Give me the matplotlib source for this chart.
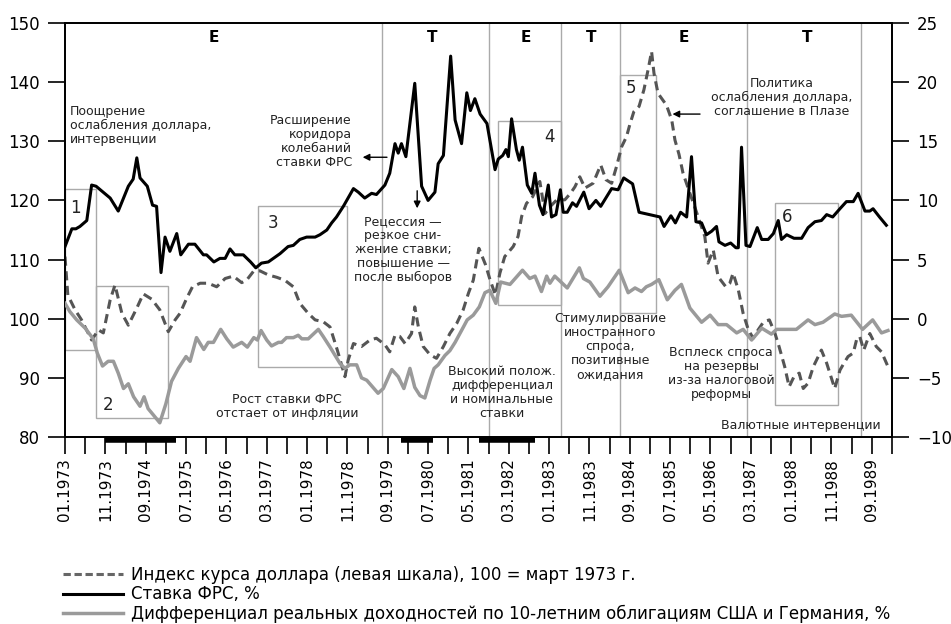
import matplotlib
matplotlib.use("Agg")
import matplotlib.pyplot as plt
import matplotlib.transforms as mtransforms
from matplotlib.lines import Line2D
from matplotlib.patches import Rectangle

plt.rcParams['font.family'] = ['DejaVu Sans']

# month index: 0 = 01.1973
usd_m = [0, 0.7, 2.5, 4.1, 6.6, 8.3, 9.5, 11.2, 12.4, 14.1,
         15.7, 17.8, 19.4, 21.5, 23.5, 25.6, 27.3, 28.5, 30.2, 31.6,
         33.5, 35.5, 37.6, 39.7, 41.7, 43.8, 45, 46.7, 48.3, 50.4,
         52.5, 54.5, 56.6, 58.2, 60.3, 62, 64, 65.7, 67.5, 69.4,
         70.2, 71.5, 73.5, 75.6, 77.2, 79.3, 80.5, 81.8, 83, 84.3,
         85.9, 86.7, 87.6, 88.8, 90.5, 92.1, 93.8, 95.4, 97.1, 98.7,
         100, 101.2, 102.6, 104.2, 105.4, 106.7, 107.8, 109, 111.1, 112.3,
         113.2, 114.4, 115.9, 117.7, 119, 120.2, 121.9, 123.9, 125.3, 126.4,
         127.6, 128.9, 130.9, 132.8, 134.1, 135.5, 136.7, 138, 139.2, 140,
         141, 142.3, 143.5, 144.6, 145.4, 146, 147, 149.1, 150.4, 151.2,
         152.2, 153.2, 154.9, 156.1, 157.2, 158.6, 159.4, 160.7, 161.9, 163.8,
         164.8, 165.6, 166.9, 168.1, 169.4, 170.6, 171.8, 173.2, 174.6, 176,
         177, 178.4, 179.5, 180.7, 182, 183, 184.2, 185.5, 187.5, 188.8,
         189.6, 190.8, 192.1, 193.1, 194.1, 195.4, 196.2, 197, 198, 199.5,
         201.1, 202.4, 204]
usd_v = [110.5, 104.0, 101.5, 99.8, 96.4, 98.1, 97.6, 103.2, 105.7, 100.9,
         98.9, 101.8, 104.2, 103.3, 101.5, 97.8, 99.8, 100.9, 103.5, 105.4,
         106.0, 106.0, 105.4, 106.8, 107.2, 106.1, 106.5, 108.0, 108.1, 107.4,
         107.0, 106.5, 105.4, 102.6, 100.9, 99.8, 99.5, 98.6, 94.7, 90.2,
         93.0, 95.8, 95.3, 96.4, 96.7, 95.6, 94.4, 97.2, 97.0, 95.8,
         97.5, 102.0, 98.6, 95.3, 93.9, 93.3, 95.3, 97.5, 99.2, 101.5,
         104.3, 106.5, 111.9, 109.2, 106.5, 104.0, 107.7, 110.5, 112.2, 113.9,
         117.3, 119.5, 120.6, 123.2, 117.8, 118.9, 120.1, 120.1, 121.2, 122.3,
         124.0, 122.1, 122.9, 126.0, 123.5, 122.9, 125.7, 129.1, 130.8, 132.8,
         135.0, 135.9, 138.7, 142.3, 145.2, 141.5, 138.1, 136.1, 133.6, 130.2,
         127.8, 124.6, 121.2, 118.9, 116.7, 113.9, 109.4, 111.6, 107.1, 105.4,
         106.0, 107.7, 104.9, 100.9, 98.1, 96.7, 98.1, 99.5, 99.8, 97.5,
         95.3, 91.9, 88.5, 90.2, 90.8, 88.2, 89.1, 91.9, 94.7, 92.5,
         90.8, 88.2, 91.3, 92.5, 93.6, 94.2, 96.4, 97.0, 94.7, 97.5,
         95.3, 94.4, 91.9]

fed_m = [0, 1.7, 2.7, 3.7, 5.4, 6.6, 7.7, 11.2, 13.2, 15.7,
         16.9, 17.8, 18.6, 20.4, 21.7, 22.7, 23.8, 24.8, 26, 27.7,
         28.7, 30.6, 32.2, 34.3, 35.1, 36.9, 38.4, 39.7, 40.9, 42.1,
         44.2, 46, 47.3, 48.7, 50.4, 53.3, 55.3, 56.6, 58.2, 59.9,
         62, 63.2, 64.9, 66.1, 67.3, 69, 71.5, 72.7, 74.3, 76,
         77.2, 79.3, 80.5, 81.8, 82.6, 83.4, 84.5, 86.7, 88.4, 90,
         91.7, 92.5, 93.8, 95.6, 96.7, 98.3, 99.6, 100.5, 101.6, 102.9,
         104.6, 106.6, 107.4, 108.5, 109.3, 109.9, 110.7, 111.9, 112.6, 113.4,
         114.6, 115.7, 116.5, 117.6, 118.5, 119.8, 120.6, 121.7, 122.8, 123.5,
         124.5, 125.8, 126.8, 128.6, 129.9, 131.6, 132.8, 135.5, 137.1, 138.5,
         140.7, 142.3, 147.5, 148.5, 150.2, 151.3, 152.6, 154.1, 155.3, 156.4,
         157.8, 159, 160.3, 161.5, 162.1, 163.6, 165, 166.3, 166.9, 167.7,
         168.8, 169.8, 171.6, 172.7, 174.3, 175.6, 176.8, 177.6, 178.9, 180.7,
         182.6, 184.2, 185.9, 187.5, 188.8, 190.3, 192.1, 193.7, 195.4, 196.6,
         198.3, 199.5, 200.3, 201.9, 203.6]
fed_v = [6.1, 7.6, 7.6, 7.8, 8.3, 11.3, 11.2, 10.2, 9.1, 11.2,
         11.8, 13.6, 11.9, 11.2, 9.6, 9.5, 3.9, 6.9, 5.7, 7.2,
         5.4, 6.3, 6.3, 5.4, 5.4, 4.8, 5.1, 5.1, 5.9, 5.4,
         5.4, 4.8, 4.3, 4.7, 4.8, 5.5, 6.1, 6.2, 6.7, 6.9,
         6.9, 7.1, 7.5, 8.1, 8.6, 9.5, 11.0, 10.7, 10.2, 10.6,
         10.5, 11.3, 12.3, 14.8, 14.0, 14.8, 13.7, 19.9, 11.2, 10.0,
         10.7, 13.1, 13.8, 22.2, 16.8, 14.8, 19.1, 17.6, 18.6, 17.3,
         16.5, 12.6, 13.5, 13.8, 14.3, 13.7, 16.9, 14.3, 13.4, 14.5,
         11.3, 10.6, 12.3, 9.6, 8.8, 11.3, 8.6, 8.8, 10.9, 9.0,
         9.0, 9.8, 9.5, 10.7, 9.3, 10.0, 9.5, 11.0, 10.9, 11.9,
         11.4, 9.0, 8.6, 7.8, 8.7, 8.1, 9.0, 8.6, 13.7, 8.2,
         8.1, 7.1, 7.4, 7.8, 6.5, 6.2, 6.4, 6.0, 6.0, 14.5,
         6.2, 6.1, 7.7, 6.7, 6.7, 7.2, 8.3, 6.7, 7.1, 6.8,
         6.8, 7.7, 8.2, 8.3, 8.8, 8.6, 9.3, 9.9, 9.9, 10.6,
         9.1, 9.1, 9.3, 8.6, 7.9]

diff_m = [0, 1.2, 2.9, 5, 7, 8, 9.3, 10.7, 12, 13.2,
          14.5, 15.7, 17, 18.6, 19.6, 20.6, 22.3, 23.5, 25, 26.4,
          28.1, 30, 31, 32.6, 34.4, 35.5, 36.8, 38.6, 40.1, 41.7,
          43.8, 45.2, 46.8, 47.7, 48.6, 50, 51.2, 52.9, 53.7, 54.9,
          56.6, 57.8, 58.7, 60.3, 62.8, 64, 65.7, 68.2, 69.4, 70.6,
          72.3, 73.5, 74.8, 77.6, 78.9, 81, 82.6, 84, 85.5, 86.7,
          88, 89.2, 90.5, 91.5, 92.5, 94.2, 95.4, 96.7, 98.6, 99.7,
          101.2, 102.7, 104.1, 105.3, 106.8, 108, 110.3, 113.4, 115.2, 116.5,
          118.1, 119.4, 120.2, 121.4, 124.5, 127.5, 128.5, 130.1, 132.6, 134.6,
          137.4, 139.6, 141.3, 142.9, 144.1, 145.4, 147.2, 149.3, 151.2, 152.8,
          154.9, 157.8, 159.9, 161.9, 164, 166.5, 168.1, 170.2, 172.7, 175.1,
          176.4, 181.3, 184.2, 185.9, 187.9, 190.8, 192.5, 194.9, 197.7, 200.2,
          202.4, 204]
diff_v = [1.3, 0.6, -0.1, -0.8, -1.7, -2.9, -4.0, -3.6, -3.6, -4.6,
          -5.9, -5.5, -6.6, -7.4, -6.6, -7.6, -8.3, -8.8, -7.2, -5.3,
          -4.2, -3.2, -3.6, -1.6, -2.6, -2.0, -2.0, -0.9, -1.7, -2.4,
          -2.0, -2.4, -1.6, -1.8, -1.0, -1.8, -2.3, -2.0, -2.0, -1.6,
          -1.6, -1.4, -1.7, -1.7, -0.9, -1.5, -2.4, -3.8, -4.2, -3.9,
          -3.9, -5.0, -5.2, -6.3, -5.9, -4.3, -4.9, -5.9, -4.2, -5.8,
          -6.5, -6.7, -5.2, -4.2, -3.9, -3.1, -2.7, -2.0, -0.8, -0.1,
          0.3, 1.0, 2.2, 2.4, 1.3, 3.1, 2.9, 4.1, 3.4, 3.6,
          2.3, 3.6, 3.0, 3.6, 2.6, 4.3, 3.4, 3.1, 1.9, 2.7,
          4.1, 2.2, 2.6, 2.3, 2.7, 2.9, 3.3, 1.6, 2.4, 2.9,
          0.9, -0.3, 0.3, -0.5, -0.5, -1.2, -0.9, -1.8, -0.8, -1.3,
          -0.9, -0.9, -0.1, -0.5, -0.3, 0.4, 0.2, 0.3, -0.9, -0.1,
          -1.2, -1.0]

# period separators and regime labels
sep_m = [78.6, 105.1, 122.9, 137.5, 169, 197.3]
regime_m = [36.9, 91, 114.3, 130.4, 153.4, 183.9]
regime_txt = ['Е', 'Т', 'Е', 'Т', 'Е', 'Т']

# recessions (start, end month)
rec_start = [10, 83.3, 102.6]
rec_end = [27.5, 91.2, 116.5]

# numbered boxes: month from, month to, index low, index high
box_x0 = [0, 7.7, 47.8, 107.3, 137.5, 176]
box_x1 = [7.7, 25.5, 69.9, 123, 146.5, 191.6]
box_y0 = [94.7, 83.2, 91.8, 102.3, 101, 85.4]
box_y1 = [121.9, 105.5, 119.1, 133.4, 141.2, 119.6]
box_lbl_x = [2.7, 10.7, 51.6, 120, 140.2, 178.9]
box_lbl_y = [118.7, 85.4, 116.1, 130.8, 139.0, 117.2]

fig = plt.figure(figsize=(9.51, 6.24), dpi=100)
ax = fig.add_axes([65 / 951, 1 - 437 / 624, (892 - 65) / 951, (437 - 23) / 624])
ax2 = ax.twinx()

ax.set_xlim(0, 205)
ax.set_ylim(80, 150)
ax2.set_ylim(-10, 25)
ax.set_yticks(range(80, 151, 10))
ax2.set_yticks(range(-10, 26, 5))

ticks = list(range(0, 206, 5))
labels = []
for m in ticks:
    if m % 10 == 0 and m <= 200:
        labels.append('%02d.%d' % (m % 12 + 1, 1973 + m // 12))
    else:
        labels.append('')
ax.set_xticks(ticks)
ax.set_xticklabels(labels, rotation=90, fontsize=11)

ax.tick_params(axis='x', direction='out', length=12, width=1.2, pad=3)
ax.tick_params(axis='y', direction='out', length=12, width=1.2, labelsize=12, pad=6)
ax2.tick_params(axis='y', direction='out', length=12, width=1.2, labelsize=12, pad=6)
for a in (ax, ax2):
    for s in a.spines.values():
        s.set_linewidth(1.3)
        s.set_color('black')

box_c = '#aaaaaa'
for xm in sep_m:
    ax.axvline(xm, color=box_c, lw=1.0, zorder=1)
for i in range(len(box_x0)):
    ax.add_patch(Rectangle((box_x0[i], box_y0[i]), box_x1[i] - box_x0[i],
                           box_y1[i] - box_y0[i], fill=False,
                           edgecolor=box_c, lw=1.0, zorder=1))
    ax.text(box_lbl_x[i], box_lbl_y[i], str(i + 1), fontsize=12,
            ha='center', va='center', color='#222222')

for xm, t in zip(regime_m, regime_txt):
    ax.text(xm, 147.6, t, fontsize=11, fontweight='bold', ha='center', va='center')

blend = mtransforms.blended_transform_factory(ax.transData, ax.transAxes)
for s, e in zip(rec_start, rec_end):
    ax.plot([s, e], [-0.007, -0.007], transform=blend, color='black', lw=4,
            solid_capstyle='butt', clip_on=False, zorder=6)

ax.plot(usd_m, usd_v, color='#555555', lw=2.2, dashes=(3, 1.8), zorder=3)
ax2.plot(diff_m, diff_v, color='#9a9a9a', lw=2.5, zorder=3)
ax2.plot(fed_m, fed_v, color='black', lw=2.2, zorder=4)

tc = '#222222'
fs = 9
ax2.text(1.2, 136.1, 'Поощрение\nослабления доллара,\nинтервенции', transform=ax.transData,
         fontsize=fs, color=tc, ha='left', va='top', linespacing=1.1)
ax2.text(71.1, 134.6, 'Расширение\nкоридора\nколебаний\nставки ФРС', transform=ax.transData,
         fontsize=fs, color=tc, ha='right', va='top', multialignment='right', linespacing=1.1)
ax2.text(83.8, 117.5, 'Рецессия —\nрезкое сни-\nжение ставки;\nповышение —\nпосле выборов',
         transform=ax.transData, fontsize=fs, color=tc, ha='center', va='top',
         multialignment='center', linespacing=1.1)
ax2.text(55, 87.4, 'Рост ставки ФРС\nотстает от инфляции', transform=ax.transData,
         fontsize=fs, color=tc, ha='center', va='top', multialignment='center', linespacing=1.1)
ax2.text(108.3, 92.2, 'Высокий полож.\nдифференциал\nи номинальные\nставки',
         transform=ax.transData, fontsize=fs, color=tc, ha='center', va='top',
         multialignment='center', linespacing=1.1)
ax2.text(135.2, 101.2, 'Стимулирование\nиностранного\nспроса,\nпозитивные\nожидания',
         transform=ax.transData, fontsize=fs, color=tc, ha='center', va='top',
         multialignment='center', linespacing=1.1)
ax2.text(162.7, 95.4, 'Всплеск спроса\nна резервы\nиз-за налоговой\nреформы',
         transform=ax.transData, fontsize=fs, color=tc, ha='center', va='top',
         multialignment='center', linespacing=1.1)
ax2.text(202.2, 81.9, 'Валютные интервенции', transform=ax.transData,
         fontsize=fs, color=tc, ha='right', va='center')
ax2.text(177.7, 140.9, 'Политика\nослабления доллара,\nсоглашение в Плазе',
         transform=ax.transData, fontsize=fs, color=tc, ha='center', va='top',
         multialignment='center', linespacing=1.1)

arr = dict(arrowstyle='-|>', color='black', lw=1.0, mutation_scale=10)
ax2.annotate('', xy=(73.1, 127.3), xytext=(80.5, 127.3), xycoords=ax.transData,
             textcoords=ax.transData, arrowprops=arr)
ax2.annotate('', xy=(87.3, 118.2), xytext=(87.3, 122.1), xycoords=ax.transData,
             textcoords=ax.transData, arrowprops=arr)
ax2.annotate('', xy=(149.9, 134.6), xytext=(158.1, 134.6), xycoords=ax.transData,
             textcoords=ax.transData, arrowprops=arr)

handles = [Line2D([], [], color='#666666', lw=2.2, dashes=(2.4, 1.2)),
           Line2D([], [], color='black', lw=2.2),
           Line2D([], [], color='#9a9a9a', lw=2.5)]
names = ['Индекс курса доллара (левая шкала), 100 = март 1973 г.',
         'Ставка ФРС, %',
         'Дифференциал реальных доходностей по 10-летним облигациям США и Германия, %']
fig.legend(handles, names, loc='upper left', bbox_to_anchor=(63 / 951, 1 - 566 / 624),
           frameon=False, fontsize=12, handlelength=3.6, handletextpad=0.5,
           labelspacing=0.08, borderpad=0, borderaxespad=0)

fig.savefig('out.png', dpi=100)
